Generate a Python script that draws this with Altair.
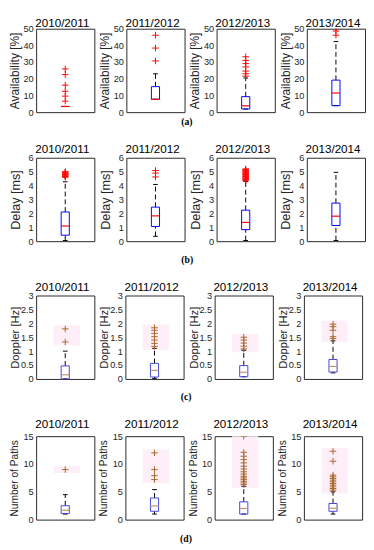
import altair as alt
import pandas as pd

seasons = ["2010/2011", "2011/2012", "2012/2013", "2013/2014"]
metric_titles = ["Availability [%]", "Delay [ms]", "Doppler [Hz]", "Number of Paths"]
captions = ["(a)", "(b)", "(c)", "(d)"]
axis_max = [50, 6, 3, 15]
axis_ticks = [[0, 10, 20, 30, 40, 50], [0, 1, 2, 3, 4, 5, 6],
              [0, 0.5, 1, 1.5, 2, 2.5, 3], [0, 5, 10, 15]]

# Availability [%]
avail_lo = [3.4, 7.7, 1.9, 3.9]
avail_q1 = [3.4, 7.7, 1.9, 3.9]
avail_med = [3.4, 7.7, 3.8, 11.5]
avail_q3 = [3.4, 15.3, 9.3, 19.2]
avail_hi = [3.4, 23.0, 20.5, 42.3]
avail_out = [[6.6, 9.6, 12.5, 16.2, 22.5, 25.9],
             [30.7, 38.4, 46.1],
             [21.6, 23.0, 24.6, 27.1, 29.1, 31.0, 33.2],
             [46.1, 48.6, 50.6]]

# Delay [ms]
delay_lo = [0.05, 0.35, 0.05, 0.05]
delay_q1 = [0.43, 1.06, 0.83, 1.13]
delay_med = [1.09, 1.82, 1.35, 1.80]
delay_q3 = [2.10, 2.45, 2.23, 2.74]
delay_hi = [4.27, 4.08, 4.30, 4.95]
delay_out = [[4.60, 4.65, 4.70, 4.75, 4.80, 4.85, 4.90, 4.95, 5.00],
             [4.62, 4.90, 5.08],
             [4.35, 4.40, 4.45, 4.50, 4.55, 4.60, 4.65, 4.70, 4.75, 4.80,
              4.85, 4.90, 4.95, 5.00, 5.05, 5.10, 5.15, 5.20],
             []]

# Doppler [Hz]
dop_lo = [0.00, 0.02, 0.08, 0.22]
dop_q1 = [0.00, 0.07, 0.08, 0.25]
dop_med = [0.15, 0.31, 0.24, 0.45]
dop_q3 = [0.47, 0.56, 0.48, 0.70]
dop_hi = [1.00, 1.10, 1.03, 1.37]
dop_out = [[1.33, 1.80],
           [1.17, 1.28, 1.40, 1.52, 1.64, 1.75, 1.84],
           [1.08, 1.18, 1.29, 1.40, 1.50],
           [1.45, 1.52, 1.75, 1.88, 1.97]]

# Number of Paths
path_lo = [1.0, 1.0, 1.0, 1.0]
path_q1 = [1.1, 1.5, 1.0, 1.5]
path_med = [1.7, 2.45, 2.0, 2.05]
path_q3 = [2.5, 3.9, 3.2, 2.9]
path_hi = [4.5, 5.4, 6.0, 5.0]
path_out = [[9.0],
            [7.2, 7.9, 9.0, 12.0],
            [6.3, 6.6, 6.9, 7.2, 7.5, 7.8, 8.2, 8.6, 9.1, 9.6, 10.2, 10.8,
             11.4, 12.1, 15.0],
            [5.3, 5.6, 5.9, 6.2, 6.5, 6.8, 7.1, 7.4, 7.7, 8.0, 10.5, 12.3]]

stats = [
    (avail_lo, avail_q1, avail_med, avail_q3, avail_hi, avail_out),
    (delay_lo, delay_q1, delay_med, delay_q3, delay_hi, delay_out),
    (dop_lo, dop_q1, dop_med, dop_q3, dop_hi, dop_out),
    (path_lo, path_q1, path_med, path_q3, path_hi, path_out),
]

# colours per row (rows c/d were rendered with a different palette)
box_colors = ["#0000FF", "#0000FF", "#4444DD", "#4444DD"]
med_colors = ["#FF0000", "#FF0000", "#B8956A", "#B8956A"]
out_colors = ["#FF0000", "#FF0000", "#A8672A", "#A8672A"]
show_band = [False, False, True, True]
ytitle_size = [12.3, 13, 11.5, 10.5]
label_extent = [15.2, 14.5, 16, 17]
title_offset = [-6, -3, -3, 0]
caption_offset = [0, 9, 9, 10]

W, H = 60, 86
FONT = "Liberation Sans"
PLUS = "M-1,0L1,0M0,-1L0,1"


def panel(m, s):
    lo, q1, med, q3, hi, outs = stats[m]
    df = pd.DataFrame({"lo": [lo[s]], "q1": [q1[s]], "med": [med[s]],
                       "q3": [q3[s]], "hi": [hi[s]]})
    od = pd.DataFrame({"v": outs[s]})
    yscale = alt.Scale(domain=[0, axis_max[m]], nice=False, zero=False)
    yaxis = alt.Axis(values=axis_ticks[m], format="~r", ticks=False,
                     domain=False, grid=False, labelPadding=3,
                     minExtent=label_extent[m], maxExtent=label_extent[m],
                     titlePadding=0, titleFontSize=ytitle_size[m])
    xscale = alt.Scale(domain=[0.5, 1.5])

    def Y(f):
        return alt.Y(f, type="quantitative", scale=yscale, axis=yaxis,
                     title=metric_titles[m])

    xc = alt.XDatum(1, scale=xscale, axis=None)
    base = alt.Chart(df)
    layers = []
    if show_band[m] and len(outs[s]) > 0:
        pad = axis_max[m] * 0.04
        bd = pd.DataFrame({"b0": [min(outs[s]) - pad], "b1": [max(outs[s]) + pad]})
        layers.append(alt.Chart(bd).mark_rect(color="#FDEEF8", opacity=1, clip=True).encode(
            x=alt.XDatum(0.8, scale=xscale, axis=None), x2=alt.X2Datum(1.25),
            y=Y("b0"), y2="b1"))
    layers.append(base.mark_rule(color="black", strokeDash=[5, 3], strokeWidth=1).encode(
        x=xc, y=Y("q3"), y2="hi"))
    layers.append(base.mark_rule(color="black", strokeDash=[5, 3], strokeWidth=1).encode(
        x=xc, y=Y("lo"), y2="q1"))
    for f in ["hi", "lo"]:
        layers.append(base.mark_rule(color="black", strokeWidth=1).encode(
            x=alt.XDatum(0.96, scale=xscale, axis=None), x2=alt.X2Datum(1.04),
            y=Y(f)))
    layers.append(base.mark_rect(fillOpacity=0, stroke=box_colors[m], strokeWidth=1).encode(
        x=alt.XDatum(0.93, scale=xscale, axis=None), x2=alt.X2Datum(1.07),
        y=Y("q1"), y2="q3"))
    layers.append(base.mark_rule(color=med_colors[m], strokeWidth=1.2).encode(
        x=alt.XDatum(0.93, scale=xscale, axis=None), x2=alt.X2Datum(1.07),
        y=Y("med")))
    if len(outs[s]) > 0:
        layers.append(alt.Chart(od).mark_point(
            shape=PLUS, filled=False, size=45, strokeWidth=1,
            color=out_colors[m], opacity=1, clip=True).encode(x=xc, y=Y("v")))
    return alt.layer(*layers).properties(
        width=W, height=H,
        title=alt.TitleParams(seasons[s], fontSize=12, fontWeight="normal",
                              font=FONT, color="black", offset=title_offset[m],
                              dx=-3, frame="group", anchor="middle"))


rows = []
for m in range(4):
    row = alt.hconcat(*[panel(m, s) for s in range(4)], spacing=3).properties(
        title=alt.TitleParams(captions[m], orient="bottom", anchor="middle",
                              font="Liberation Serif", fontWeight="bold",
                              fontSize=10, color="black", offset=caption_offset[m]))
    rows.append(row)

chart = alt.vconcat(*rows, spacing=16).properties(padding=0).configure_view(
    stroke="#262626", strokeWidth=1
).configure_axis(
    labelFont=FONT, labelFontSize=9.5, labelColor="#262626",
    titleFont=FONT, titleFontSize=12.5, titleFontWeight="normal",
    titleColor="#262626"
)

chart.save("out.html", embed_options={"renderer": "svg", "actions": False})
